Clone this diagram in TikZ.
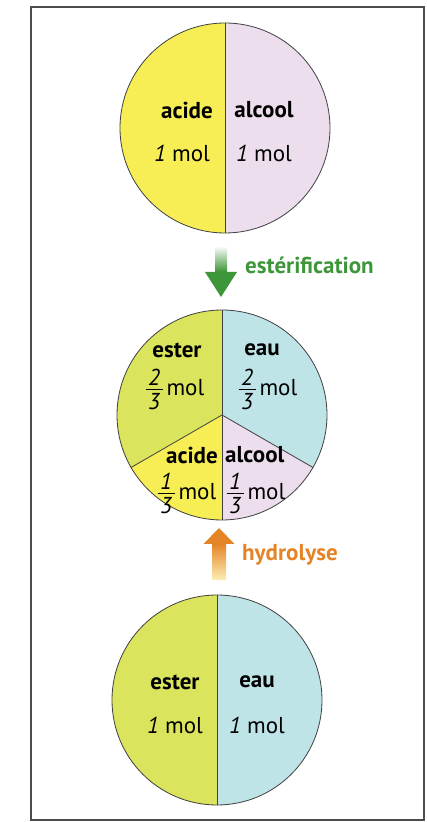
\documentclass[tikz,border=0pt]{standalone}
\usepackage{amsmath}
\usepackage{fontspec}
\setmainfont{PT Sans}
\usepackage{tikz}
\usetikzlibrary{positioning,calc}
\definecolor{acidecol}{RGB}{246,238,84}
\definecolor{alcoolcol}{RGB}{236,222,236}
\definecolor{estercol}{RGB}{218,228,92}
\definecolor{eaucol}{RGB}{190,228,232}
\definecolor{estgreen}{RGB}{62,150,58}
\definecolor{hydorange}{RGB}{228,132,38}
\definecolor{hydpale}{RGB}{250,226,130}
\newcommand\molfrac[2]{$\vcenter{\offinterlineskip\halign{\hfil##\hfil\cr
  \textit{#1}\cr\noalign{\kern3.5pt}\rule{17pt}{0.9pt}\cr\noalign{\kern3.5pt}\textit{#2}\cr}}$}

\begin{document}
\begin{tikzpicture}[x=1pt, y=1pt,
  pie/.style={circle, draw=black!75, line width=0.8pt, minimum size=210pt, inner sep=0pt},
  divider/.style={draw=black!75, line width=0.8pt},
  border/.style={draw=black!70, line width=1.4pt},
  species/.style={font=\fontsize{23}{26}\selectfont\bfseries, inner sep=0pt},
  qty/.style={font=\fontsize{23}{26}\selectfont, inner sep=0pt},
  react/.style={font=\fontsize{23}{26}\selectfont\bfseries, anchor=west, inner sep=1pt}
]
  \useasboundingbox (0,0) rectangle (427,822);
  \draw[border] (31,2) rectangle (424,815);

  % initial state: acide + alcool
  \coordinate (c1) at (225,694);
  \fill[acidecol] (c1) -- ++(90:105) arc[start angle=90, end angle=270, radius=105] -- cycle;
  \fill[alcoolcol] (c1) -- ++(90:105) arc[start angle=90, end angle=-90, radius=105] -- cycle;
  \node[pie] (top) at (c1) {};
  \draw[divider] (top.north) -- (top.south);
  \node[species] (acide1) at (187,712) {acide};
  \node[species] (alcool1) at (264,712) {alcool};
  \node[qty] (acide1q) at (182,669) {\textit{1} mol};
  \node[qty] (alcool1q) at (264,669) {\textit{1} mol};

  % equilibrium
  \coordinate (c2) at (222,407);
  \fill[estercol] (c2) -- ++(90:105) arc[start angle=90, end angle=210, radius=105] -- cycle;
  \fill[eaucol] (c2) -- ++(-30:105) arc[start angle=-30, end angle=90, radius=105] -- cycle;
  \fill[acidecol] (c2) -- ++(210:105) arc[start angle=210, end angle=270, radius=105] -- cycle;
  \fill[alcoolcol] (c2) -- ++(270:105) arc[start angle=270, end angle=330, radius=105] -- cycle;
  \node[pie] (mid) at (c2) {};
  \draw[divider] (mid.center) -- (mid.90);
  \draw[divider] (mid.center) -- (mid.210);
  \draw[divider] (mid.center) -- (mid.330);
  \draw[divider] (mid.center) -- (mid.270);
  \node[species] (ester2) at (177,472) {ester};
  \node[species] (eau2) at (262,472) {eau};
  \node[qty] (ester2q) at (175,433) {\molfrac{2}{3}\,mol};
  \node[qty] (eau2q) at (268,433) {\molfrac{2}{3}\,mol};
  \node[species, anchor=east] (acide2) at (218,367) {acide};
  \node[species, anchor=west] (alcool2) at (225,367) {alcool};
  \node[qty] (acide2q) at (187,329) {\molfrac{1}{3}\,mol};
  \node[qty] (alcool2q) at (256,329) {\molfrac{1}{3}\,mol};

  % initial state: ester + eau
  \coordinate (c3) at (217,122);
  \fill[estercol] (c3) -- ++(90:105) arc[start angle=90, end angle=270, radius=105] -- cycle;
  \fill[eaucol] (c3) -- ++(90:105) arc[start angle=90, end angle=-90, radius=105] -- cycle;
  \node[pie] (bot) at (c3) {};
  \draw[divider] (bot.north) -- (bot.south);
  \node[species] (ester3) at (175,140) {ester};
  \node[species] (eau3) at (257,140) {eau};
  \node[qty] (ester3q) at (175,97) {\textit{1} mol};
  \node[qty] (eau3q) at (257,97) {\textit{1} mol};

  % arrows
  \coordinate (gtip) at (221,525);
  \fill[estgreen] (gtip) -- ++(16,25) -- ++(-32,0) -- cycle;
  \shade[top color=estgreen!8, bottom color=estgreen] (215,550.5) rectangle (227,574);
  \node[react, text=estgreen] (ester) at (244,557) {estérification};

  \coordinate (otip) at (219,294);
  \fill[hydorange] (otip) -- ++(15.5,-16) -- ++(-31,0) -- cycle;
  \shade[top color=hydorange, bottom color=hydpale!60] (212,278.5) rectangle (226,242);
  \node[react, text=hydorange] (hydro) at (241,267) {hydrolyse};
\end{tikzpicture}
\end{document}
